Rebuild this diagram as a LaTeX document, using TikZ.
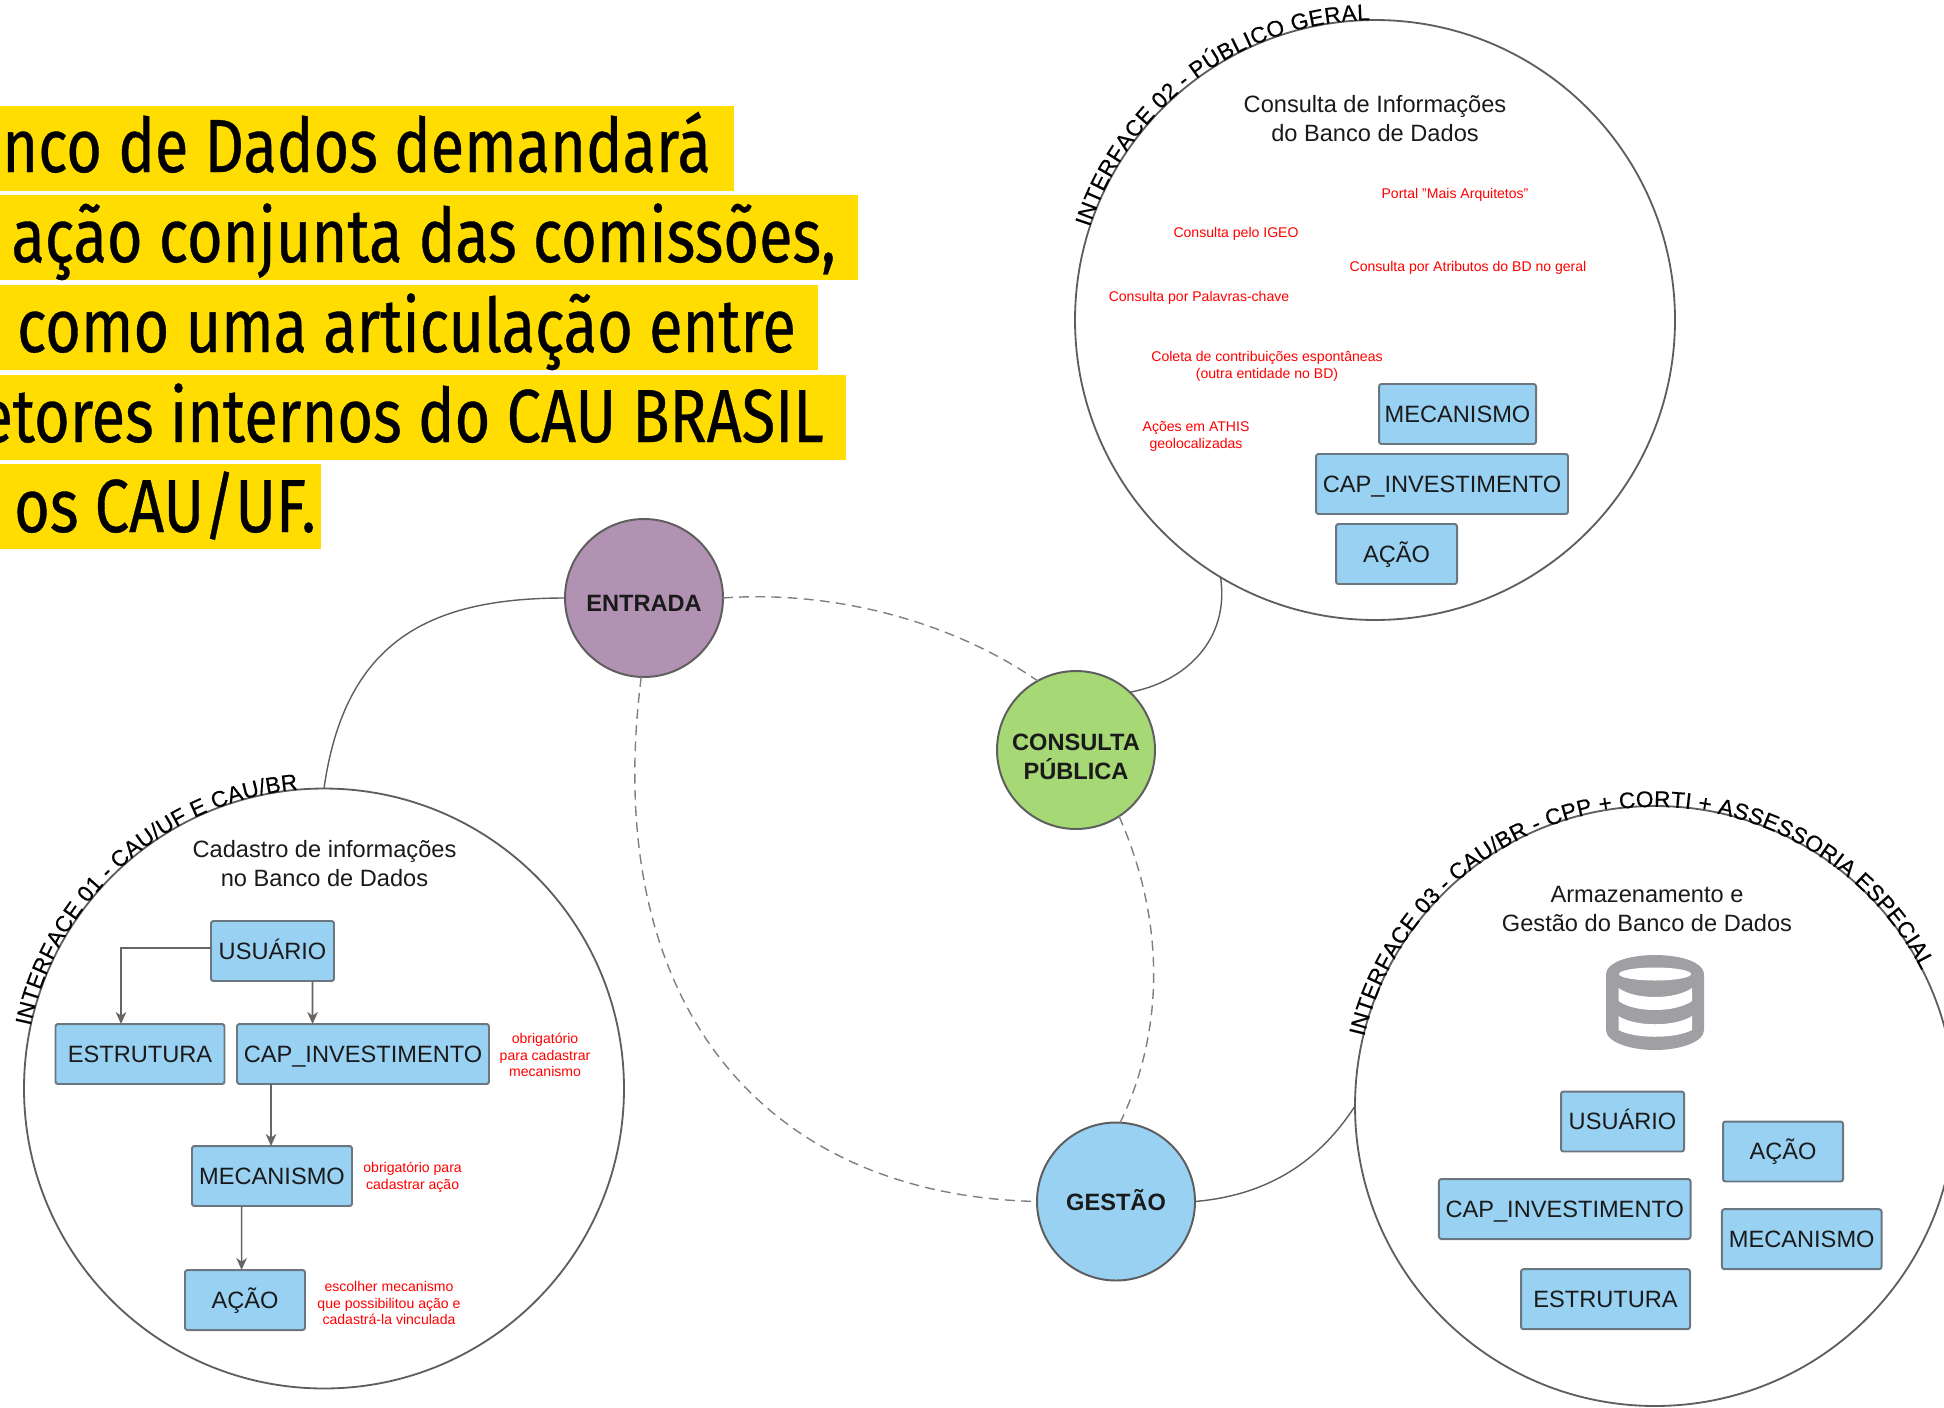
\documentclass[tikz,border=0pt]{standalone}
\usepackage{fontspec}
\usetikzlibrary{decorations.text,arrows.meta}
\setmainfont{Liberation Sans}
\newfontfamily\yfont[FakeStretch=0.815,FakeBold=0.5]{Fira Sans}
\newfontfamily\rimfont[FakeBold=0.4]{Liberation Sans}
\newcommand\boxtxt{\fontsize{33.6}{41.3}\selectfont}
\newcommand\redtxt{\fontsize{20}{24}\selectfont}
\newcommand\ytxt{\yfont\fontsize{107}{120}\selectfont}
\definecolor{boxblue}{HTML}{99D1F3}
\definecolor{boxline}{HTML}{6A7680}
\definecolor{ringline}{HTML}{5E5E5E}
\definecolor{hl}{HTML}{FFDD00}
\definecolor{arrowgray}{HTML}{666666}
\definecolor{dbgray}{HTML}{A0A0A4}
\definecolor{ink}{HTML}{1A1A1A}
\tikzset{
  ring/.style={circle,draw=ringline,line width=2.6pt,inner sep=0pt,outer sep=0pt,minimum size=30cm},
  hub/.style={circle,draw=ringline,line width=2.8pt,inner sep=0pt,outer sep=0pt,minimum size=7.9cm},
  hubtext/.style={align=center,font=\boxtxt\bfseries,text=ink,inner sep=0pt},
  bx/.style={draw=boxline,fill=boxblue,line width=2.8pt,rounded corners=3.5pt,inner sep=0pt,outer sep=0pt,minimum height=3cm,font=\boxtxt,text=ink,text height=24pt,text depth=0pt},
  title/.style={align=center,font=\boxtxt,text=ink,inner sep=0pt},
  red/.style={align=center,font=\redtxt,text=red,inner sep=0pt},
  yt/.style={font=\ytxt,text=black,inner sep=0pt},
  link/.style={draw=ringline,line width=2pt},
  dash line/.style={draw=gray,line width=2pt,dash pattern=on 14pt off 9pt},
  arr/.style={draw=arrowgray,line width=2.4pt,-{Stealth[length=17pt,width=15pt,inset=5pt]}},
  rimtext/.style={decorate,decoration={text along path,text align={fit to path},raise=0pt,text={#1}}}
}
\begin{document}
\begin{tikzpicture}[x=0.05cm,y=-0.05cm]
\useasboundingbox (0,0) rectangle (1944,1407);
% yellow bands
\fill[hl] (0,106) rectangle (734,191);
\fill[hl] (0,195) rectangle (858,280);
\fill[hl] (0,285) rectangle (818,370);
\fill[hl] (0,375) rectangle (846,460);
\fill[hl] (0,464) rectangle (321,549);
\node[yt,anchor=base east] (y1) at (711,172) {nco de Dados demandará};
\node[yt,anchor=base east] (y2) at (836,262) {ação conjunta das comissões,};
\node[yt,anchor=base east] (y3) at (796,352) {como uma articulação entre};
\node[yt,anchor=base east] (y4) at (824,442) {etores internos do CAU BRASIL};
\node[yt,anchor=base west] (y5) at (14,532) {os CAU/UF.};
% rings
\node[ring] (c1) at (324,1088.5) {};
\node[ring] (c2) at (1375,320) {};
\node[ring] (c3) at (1655,1106) {};
% hubs
\node[hub,fill={rgb,255:red,178;green,146;blue,178}] (entrada) at (644,598) {};
\node[hub,fill={rgb,255:red,166;green,217;blue,117}] (consulta) at (1076,750) {};
\node[hub,fill=boxblue] (gestao) at (1116,1201.5) {};
\node[hubtext] (lentrada) at (644,603) {ENTRADA};
\node[hubtext] (lconsulta) at (1076,757) {CONSULTA\\PÚBLICA};
\node[hubtext] (lgestao) at (1116,1200) {GESTÃO};
% connectors
\draw[link] (entrada.west) .. controls (430,598) and (345,640) .. (c1.north);
\draw[link] (consulta.47) .. controls (1185,682) and (1230,640) .. (c2.-121);
\draw[link] (gestao.east) .. controls (1270,1195) and (1320,1160) .. (c3.west);
\draw[dash line] (entrada.east) .. controls (830,590) and (950,620) .. (consulta.119);
\draw[dash line] (consulta.-57) .. controls (1165,920) and (1165,1030) .. (gestao.87);
\draw[dash line] (entrada.-92) .. controls (600,1000) and (760,1195) .. (gestao.west);
% rim labels
\begin{scope}[shift={(c1.center)},y=0.05cm]
\path[rimtext={|\rimfont\fontsize{32.2}{34}\selectfont|INTERFACE 01 - CAU/UF E CAU/BR}] (168:300) arc[start angle=168,end angle=95,radius=300];
\end{scope}
\begin{scope}[shift={(c2.center)},y=0.05cm]
\path[rimtext={|\rimfont\fontsize{32.2}{34}\selectfont|INTERFACE 02 - PÚBLICO GERAL}] (162:300) arc[start angle=162,end angle=91,radius=300];
\end{scope}
\begin{scope}[shift={(c3.center)},y=0.05cm]
\path[rimtext={|\rimfont\fontsize{32.2}{34}\selectfont|INTERFACE 03 - CAU/BR - CPP + CORTI + ASSESSORIA ESPECIAL}] (166.6:299) arc[start angle=166.6,end angle=27,radius=299];
\end{scope}
% titles
\node[title] (t1) at (324.5,863.5) {Cadastro de informações\\no Banco de Dados};
\node[title] (t2) at (1375,118.5) {Consulta de Informações\\do Banco de Dados};
\node[title] (t3) at (1647,908.5) {Armazenamento e\\Gestão do Banco de Dados};
% interface 1 boxes
\node[bx,minimum width=6.15cm] (u1) at (272.5,951) {USUÁRIO};
\node[bx,minimum width=8.45cm] (e1) at (140,1054) {ESTRUTURA};
\node[bx,minimum width=12.6cm] (k1) at (363,1054) {CAP\_INVESTIMENTO};
\node[bx,minimum width=8cm] (m1) at (272,1176) {MECANISMO};
\node[bx,minimum width=6cm] (a1) at (245,1300) {AÇÃO};
\draw[arr] ([yshift=.15cm]u1.west) -| ([xshift=-.95cm]e1.north);
\draw[arr] ([xshift=2cm]u1.south) -- ([xshift=-2.52cm]k1.north);
\draw[arr] ([xshift=-4.6cm]k1.south) -- ([xshift=-.05cm]m1.north);
\draw[arr] ([xshift=-1.52cm]m1.south) -- ([xshift=-.17cm]a1.north);
% interface 2 boxes
\node[bx,minimum width=7.85cm] (m2) at (1457.5,414) {MECANISMO};
\node[bx,minimum width=12.6cm] (k2) at (1442,484) {CAP\_INVESTIMENTO};
\node[bx,minimum width=6.05cm] (a2) at (1396.5,554) {AÇÃO};
% interface 3 boxes
\node[bx,minimum width=6.15cm] (u3) at (1622.5,1121.5) {USUÁRIO};
\node[bx,minimum width=6cm] (a3) at (1783,1151.5) {AÇÃO};
\node[bx,minimum width=12.58cm] (k3) at (1564.7,1209) {CAP\_INVESTIMENTO};
\node[bx,minimum width=7.98cm] (m3) at (1801.7,1239.2) {MECANISMO};
\node[bx,minimum width=8.45cm] (e3) at (1605.5,1299.2) {ESTRUTURA};
% database icon
\fill[dbgray] (1606,975) .. controls (1606,960) and (1635,955) .. (1655,955) .. controls (1675,955) and (1704,960) .. (1704,975) -- (1704,1030) .. controls (1704,1042) and (1680,1050) .. (1655,1050) .. controls (1630,1050) and (1606,1042) .. (1606,1030) -- cycle;
\fill[white] (1655,974) ellipse [x radius=36,y radius=6.5];
\fill[white] (1618.5,988) .. controls (1635,1000) and (1675,1000) .. (1692,988) -- (1692,1001) .. controls (1675,1013) and (1635,1013) .. (1618.5,1001) -- cycle;
\fill[white] (1618.5,1016) .. controls (1635,1027) and (1675,1027) .. (1692,1016) -- (1692,1030) .. controls (1675,1039) and (1635,1039) .. (1618.5,1030) -- cycle;
% red notes
\node[red] (n1) at (545,1055) {obrigatório\\para cadastrar\\mecanismo};
\node[red] (n2) at (412.6,1177) {obrigatório para\\cadastrar ação};
\node[red] (n3) at (389,1303) {escolher mecanismo\\que possibilitou ação e\\cadastrá-la vinculada};
\node[red] (n4) at (1455,195) {Portal "Mais Arquitetos"};
\node[red] (n5) at (1236,233.6) {Consulta pelo IGEO};
\node[red] (n6) at (1468,267.5) {Consulta por Atributos do BD no geral};
\node[red] (n7) at (1199,298) {Consulta por Palavras-chave};
\node[red] (n8) at (1267,366) {Coleta de contribuições espontâneas\\(outra entidade no BD)};
\node[red] (n9) at (1196,436) {Ações em ATHIS\\geolocalizadas};
\end{tikzpicture}
\end{document}
